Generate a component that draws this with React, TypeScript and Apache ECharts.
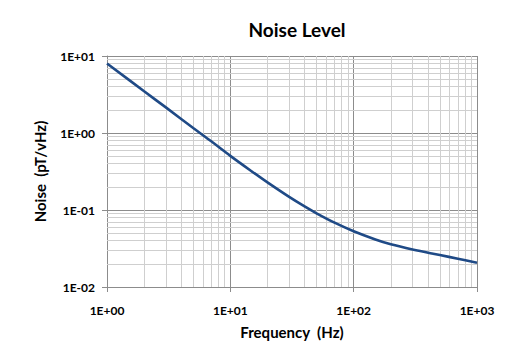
import React, { useEffect, useRef } from "react";
import * as echarts from "echarts";

const frequencies = [1, 2, 3, 5, 7, 10, 15, 20, 30, 40, 50, 70, 100, 150, 200, 300, 500, 700, 1000];
const noiseValues = [8.0, 3.48, 2.15, 1.16, 0.78, 0.505, 0.3155, 0.228, 0.1478, 0.1111, 0.0905, 0.0684, 0.0529, 0.0414, 0.0358, 0.0307, 0.026, 0.0233, 0.0207];
const xMinorTicks = [2, 3, 4, 5, 6, 7, 8, 9, 20, 30, 40, 50, 60, 70, 80, 90, 200, 300, 400, 500, 600, 700, 800, 900];
const yMinorTicks = [0.02, 0.03, 0.04, 0.05, 0.06, 0.07, 0.08, 0.09, 0.2, 0.3, 0.4, 0.5, 0.6, 0.7, 0.8, 0.9, 2, 3, 4, 5, 6, 7, 8, 9];

const FONT = "Lato, 'Open Sans', sans-serif";

function sciLabel(v: number): string {
  const e = Math.round(Math.log10(v));
  const sign = e < 0 ? "-" : "+";
  const a = Math.abs(e);
  return "1E" + sign + (a < 10 ? "0" + a : String(a));
}

export default function App() {
  const ref = useRef<HTMLDivElement>(null);
  useEffect(() => {
    if (!ref.current) return;
    const chart = echarts.init(ref.current, undefined, { renderer: "svg" });
    const majorColor = "#8c8c8c";
    const minorColor = "#cfcfcf";
    chart.setOption({
      animation: false,
      backgroundColor: "#ffffff",
      title: {
        text: "Noise Level",
        left: 292,
        top: 15,
        textAlign: "center",
        textStyle: { fontFamily: FONT, fontSize: 19, fontWeight: "bold", color: "#000" },
      },
      grid: { left: 107, right: 40, top: 56, bottom: 74, containLabel: false },
      xAxis: {
        type: "log",
        logBase: 10,
        min: 1,
        max: 1000,
        name: "Frequency  (Hz)",
        nameLocation: "middle",
        nameGap: 37,
        nameTextStyle: { fontFamily: FONT, fontSize: 15, fontWeight: "bold", color: "#000" },
        axisLine: { show: true, lineStyle: { color: majorColor, width: 1 } },
        axisTick: { show: true, length: 5, inside: false, lineStyle: { color: majorColor } },
        axisLabel: {
          formatter: sciLabel,
          margin: 17,
          fontFamily: FONT,
          fontSize: 12,
          fontWeight: "bold",
          color: "#000",
        },
        splitLine: { show: true, lineStyle: { color: majorColor, width: 1 } },
      },
      yAxis: {
        type: "log",
        logBase: 10,
        min: 0.01,
        max: 10,
        name: "Noise  (pT/vHz)",
        nameLocation: "middle",
        nameGap: 60,
        nameRotate: 90,
        nameTextStyle: { fontFamily: FONT, fontSize: 15, fontWeight: "bold", color: "#000" },
        axisLine: { show: true, lineStyle: { color: majorColor, width: 1 } },
        axisTick: { show: true, length: 5, inside: false, lineStyle: { color: majorColor } },
        axisLabel: {
          formatter: sciLabel,
          margin: 12,
          fontFamily: FONT,
          fontSize: 12,
          fontWeight: "bold",
          color: "#000",
        },
        splitLine: { show: true, lineStyle: { color: majorColor, width: 1 } },
      },
      series: [
        {
          type: "line",
          data: [],
          z: 1,
          silent: true,
          markLine: {
            silent: true,
            symbol: ["none", "none"],
            label: { show: false },
            animation: false,
            lineStyle: { color: minorColor, width: 1, type: "solid" },
            emphasis: { disabled: true },
            data: [
              ...xMinorTicks.map((v) => ({ xAxis: v })),
              ...yMinorTicks.map((v) => ({ yAxis: v })),
            ],
          },
        },
        {
          type: "line",
          z: 5,
          data: frequencies.map((f, i) => [f, noiseValues[i]]),
          showSymbol: false,
          smooth: 0.35,
          lineStyle: { color: "#1f4a86", width: 2.6 },
        },
      ],
    });
    return () => chart.dispose();
  }, []);
  return (
    <div
      ref={ref}
      style={{ position: "fixed", left: 0, top: 0, width: 517, height: 361 }}
    />
  );
}
